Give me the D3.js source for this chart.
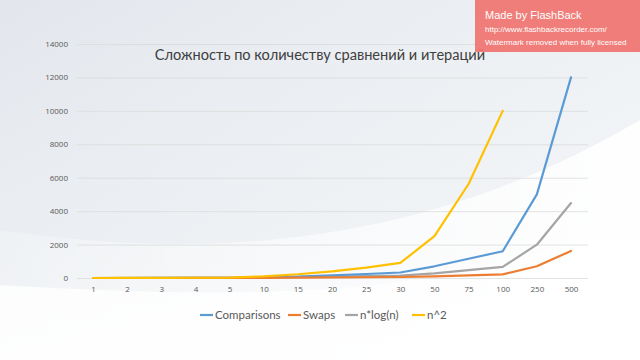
<!DOCTYPE html>
<html><head><meta charset="utf-8">
<script src="https://cdn.jsdelivr.net/npm/d3@7"></script>
<style>html,body{margin:0;padding:0;background:#fff;}svg{display:block;}</style>
</head><body>
<svg id="c" width="640" height="360"></svg>
<script>
const categories = ["1","2","3","4","5","10","15","20","25","30","50","75","100","250","500"];
const comparisons = [0,1,3,6,10,40,90,160,240,330,700,1150,1600,5000,12000];
const swaps = [0,0,1,2,3,10,20,35,45,60,100,160,220,700,1620];
const nlogn = [0,2,5,8,12,33,59,86,116,147,282,467,664,1993,4483];
const nsq = [1,4,9,16,25,100,225,400,625,900,2500,5625,10000,null,null];
const yTicks = [0,2000,4000,6000,8000,10000,12000,14000];
const seriesNames = ["Comparisons","Swaps","n*log(n)","n^2"];
const seriesColors = ["#5B9BD5","#ED7D31","#A5A5A5","#FFC000"];
const title = "Сложность по количеству сравнений и итераций";

const svg = d3.select("#c");
const W = 640, H = 360;

// background
const defs = svg.append("defs");
const bg = defs.append("linearGradient").attr("id","bg").attr("x1","0").attr("y1","0").attr("x2","1").attr("y2","1");
bg.append("stop").attr("offset","0").attr("stop-color","#e3e7ed");
bg.append("stop").attr("offset","0.5").attr("stop-color","#eef1f4");
bg.append("stop").attr("offset","1").attr("stop-color","#f6f7f9");
svg.append("rect").attr("width",W).attr("height",H).attr("fill","url(#bg)");
const sw = defs.append("linearGradient").attr("id","sw").attr("x1","0").attr("y1","0").attr("x2","1").attr("y2","0");
sw.append("stop").attr("offset","0").attr("stop-color","#ffffff").attr("stop-opacity","0.2");
sw.append("stop").attr("offset","1").attr("stop-color","#ffffff").attr("stop-opacity","0.95");
const sw2 = defs.append("linearGradient").attr("id","sw2").attr("x1","0").attr("y1","0").attr("x2","0").attr("y2","1");
sw2.append("stop").attr("offset","0").attr("stop-color","#ffffff").attr("stop-opacity","0.3");
sw2.append("stop").attr("offset","0.4").attr("stop-color","#ffffff").attr("stop-opacity","0.8");
sw2.append("stop").attr("offset","1").attr("stop-color","#ffffff").attr("stop-opacity","0.9");
svg.append("path").attr("d","M0,230 C200,260 420,250 640,120 L640,360 L0,360 Z").attr("fill","url(#sw)");
svg.append("path").attr("d","M0,285 C250,300 480,300 640,210 L640,360 L0,360 Z").attr("fill","url(#sw2)");

const x = d3.scalePoint().domain(categories).range([93,571]);
const y = d3.scaleLinear().domain([0,14000]).range([278,44]);

// gridlines + y labels
const gy = svg.append("g").attr("transform","translate(77,0)")
  .call(d3.axisLeft(y).tickValues(yTicks).tickSize(-511).tickFormat(d3.format("d")).tickPadding(9));
gy.select(".domain").remove();
gy.selectAll(".tick line").attr("stroke","#d9d9d9").attr("stroke-width",0.75);
gy.selectAll(".tick text").attr("fill","#595959").attr("font-family","Open Sans, sans-serif").attr("font-size","8px");

// x labels
const gx = svg.append("g").attr("transform","translate(0,278)")
  .call(d3.axisBottom(x).tickSize(0).tickPadding(8));
gx.select(".domain").remove();
gx.selectAll(".tick text").attr("fill","#595959").attr("font-family","Open Sans, sans-serif").attr("font-size","8px");

// lines
const data = [comparisons, swaps, nlogn, nsq];
const line = d3.line().defined(d => d.v !== null).x(d => x(d.c)).y(d => y(d.v));
[2,0,1,3].forEach(i => {
  const pts = categories.map((c,j) => ({c, v: data[i][j]}));
  svg.append("path").datum(pts).attr("d", line).attr("fill","none")
    .attr("stroke", seriesColors[i]).attr("stroke-width",2.2).attr("stroke-linejoin","round").attr("stroke-linecap","round");
});

// title
svg.append("text").attr("x",320).attr("y",60).attr("text-anchor","middle")
  .attr("font-family","Lato, sans-serif").attr("font-size","14.6px").attr("fill","#404040").text(title);

// legend
const legX = [200, 288, 345, 412];
const lg = svg.append("g").attr("font-family","Lato, sans-serif").attr("font-size","11.5px").attr("fill","#595959");
seriesNames.forEach((n,i) => {
  lg.append("line").attr("x1",legX[i]).attr("x2",legX[i]+13).attr("y1",315).attr("y2",315)
    .attr("stroke",seriesColors[i]).attr("stroke-width",2.2);
  lg.append("text").attr("x",legX[i]+15).attr("y",319).text(n);
});

// watermark
const wm = svg.append("g");
wm.append("rect").attr("x",475).attr("y",0).attr("width",165).attr("height",52).attr("fill","#f0706b").attr("opacity",0.9);
wm.append("text").attr("x",485).attr("y",19).attr("fill","#fff").attr("font-family","Liberation Sans, Arial, sans-serif").attr("font-size","11px").text("Made by FlashBack");
wm.append("text").attr("x",485).attr("y",32).attr("fill","#fff").attr("font-family","Liberation Sans, Arial, sans-serif").attr("font-size","8px").text("http://www.flashbackrecorder.com/");
wm.append("text").attr("x",485).attr("y",45).attr("fill","#fff").attr("font-family","Liberation Sans, Arial, sans-serif").attr("font-size","8px").text("Watermark removed when fully licensed");
</script>
</body></html>
